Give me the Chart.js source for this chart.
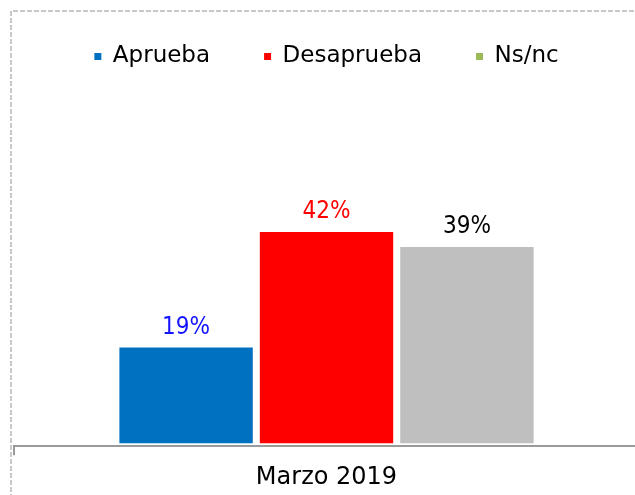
<!DOCTYPE html>
<html>
<head>
<meta charset="utf-8">
<script src="https://cdn.jsdelivr.net/npm/chart.js@4/dist/chart.umd.min.js"></script>
<style>
  html, body { margin: 0; padding: 0; background: #fff; overflow: hidden; }
  #wrap { width: 645px; height: 495px; }
</style>
</head>
<body>
<div id="wrap"><canvas id="chart-bar" width="645" height="495"></canvas></div>
<script>
var categories = ["Marzo 2019"];
var seriesNames = ["Aprueba", "Desaprueba", "Ns/nc"];
var aprueba = [19];
var desaprueba = [42];
var nsnc = [39];

var barColors = ["#0070C0", "#FF0000", "#BFBFBF"];
var legendColors = ["#0070C0", "#FF0000", "#9BBB59"];
var labelColors = ["#1414FF", "#FF0000", "#000000"];

// dashed frame round the chart, like the exported slide
var framePlugin = {
  id: "frame",
  beforeDraw: function (chart) {
    var c = chart.ctx;
    c.save();
    c.strokeStyle = "#c8c8c8";
    c.lineWidth = 2;
    c.setLineDash([5, 2]);
    c.beginPath();
    c.moveTo(11, 520);
    c.lineTo(11, 11);
    c.lineTo(660, 11);
    c.stroke();
    c.restore();
  }
};

// value labels above each bar
var valueLabels = {
  id: "valueLabels",
  afterDatasetsDraw: function (chart) {
    var c = chart.ctx;
    c.save();
    c.font = '24px "DejaVu Sans Condensed", "DejaVu Sans", sans-serif';
    c.textAlign = "center";
    c.textBaseline = "alphabetic";
    chart.data.datasets.forEach(function (ds, i) {
      var meta = chart.getDatasetMeta(i);
      meta.data.forEach(function (bar, j) {
        c.fillStyle = labelColors[i];
        c.fillText(ds.data[j] + "%", bar.x, bar.y - 14);
      });
    });
    c.restore();
  }
};

var ctx = document.getElementById("chart-bar").getContext("2d");

new Chart(ctx, {
  type: "bar",
  data: {
    labels: categories,
    datasets: [
      { label: seriesNames[0], data: aprueba, backgroundColor: barColors[0] },
      { label: seriesNames[1], data: desaprueba, backgroundColor: barColors[1] },
      { label: seriesNames[2], data: nsnc, backgroundColor: barColors[2] }
    ]
  },
  options: {
    responsive: false,
    animation: false,
    categoryPercentage: 0.674,
    barPercentage: 0.95,
    layout: {
      padding: { top: -9, left: 14, right: 6, bottom: -5 }
    },
    plugins: {
      tooltip: { enabled: false },
      legend: {
        display: true,
        position: "top",
        labels: {
          boxWidth: 7,
          boxHeight: 7,
          padding: 54,
          color: "#000",
          font: { size: 23, family: '"DejaVu Sans", sans-serif' },
          generateLabels: function (chart) {
            var items = Chart.defaults.plugins.legend.labels.generateLabels(chart);
            items.forEach(function (it, i) {
              it.fillStyle = legendColors[i];
              it.strokeStyle = legendColors[i];
              it.lineWidth = 0;
            });
            return items;
          }
        }
      }
    },
    scales: {
      x: {
        grid: {
          display: true,
          offset: true,
          drawOnChartArea: false,
          drawTicks: true,
          tickLength: 9,
          color: "#9a9a9a",
          lineWidth: 2
        },
        border: { display: true, color: "#9a9a9a", width: 2 },
        ticks: {
          color: "#000",
          padding: 8,
          font: { size: 24, family: '"DejaVu Sans", sans-serif' }
        }
      },
      y: {
        display: false,
        min: -0.6,
        max: 72.6
      }
    }
  },
  plugins: [framePlugin, valueLabels]
});
</script>
</body>
</html>
